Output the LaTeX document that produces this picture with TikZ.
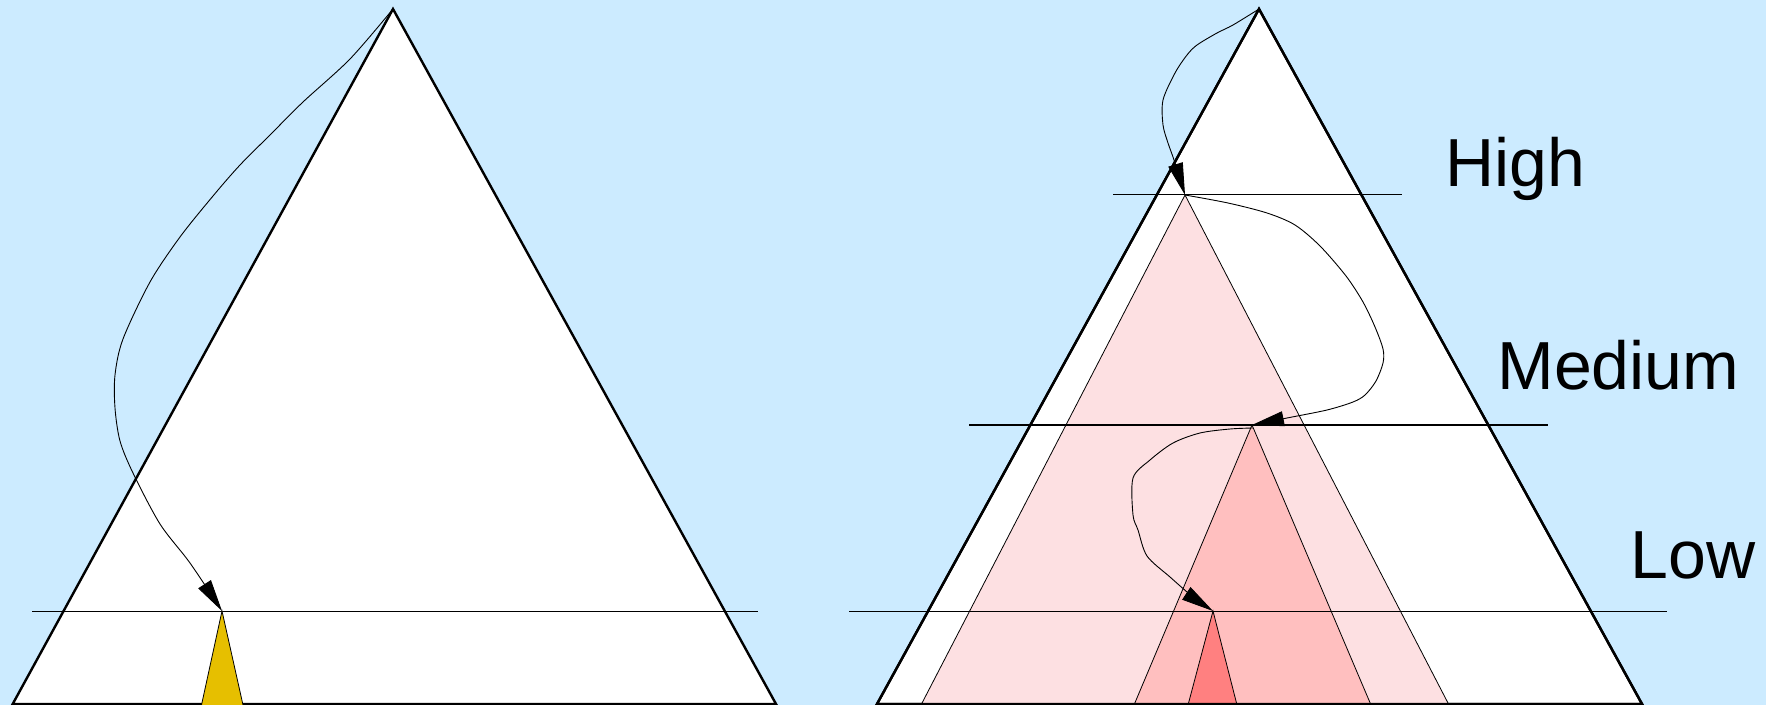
\documentclass[tikz,border=0pt]{standalone}
\usepackage{fontspec}
\usetikzlibrary{arrows.meta}
\newfontfamily\tagfont{Liberation Sans}
\definecolor{sky}{HTML}{CCEBFF}
\definecolor{gold}{HTML}{E6BF00}
\definecolor{pinkA}{HTML}{FDE0E2}
\definecolor{pinkB}{HTML}{FFBFBF}
\definecolor{pinkC}{HTML}{FF8080}
\tikzset{
  pyramid/.style={draw=black,line width=1.2pt,line join=miter,fill=white},
  slice/.style={draw=black,line width=0.4pt},
  level/.style={draw=black,line width=0.5pt},
  flow/.style={draw=black,line width=0.45pt,-{Triangle[length=16pt,width=7.5pt]}},
  tag/.style={font=\tagfont\fontsize{34}{38}\selectfont,anchor=base west,inner sep=0pt}
}
\begin{document}
\begin{tikzpicture}[x=0.5pt,y=-0.5pt]
\fill[sky] (0,0) rectangle (1766,705);
\useasboundingbox (0,0) rectangle (1766,705);
% left pyramid
\coordinate (ltop) at (393,9); \coordinate (lpick) at (222,611);
\draw[pyramid] (12.7,704) -- (ltop) -- (776,704) -- cycle;
\draw[level] (32,611) -- (758,611);
\fill[gold] (lpick) -- (201.5,705) -- (243,705) -- cycle;
\draw[slice] (201.5,705) -- (lpick) -- (243,705);
\draw[flow] plot[smooth,tension=0.5] coordinates {(ltop) (350,59) (303,102) (270,135) (240,165) (213,196) (180,237) (150,282)
  (123,339) (115,375) (115,408) (120,441) (133,473) (160,524) (190,563) (lpick)};
% right pyramid
\coordinate (rtop) at (1259,9); \coordinate (high) at (1185,195);
\coordinate (medium) at (1252,425); \coordinate (low) at (1213,611);
\draw[pyramid] (877,704) -- (rtop) -- (1642,704) -- cycle;
\fill[pinkA] (high) -- (921,705) -- (1449,705) -- cycle;
\draw[slice] (921,705) -- (high) -- (1449,705);
\fill[pinkB] (medium) -- (1134,705) -- (1371,705) -- cycle;
\draw[slice] (1134,705) -- (medium) -- (1371,705);
\fill[pinkC] (low) -- (1188,705) -- (1237,705) -- cycle;
\draw[slice] (1188,705) -- (low) -- (1237,705);
\draw[pyramid,fill=none] (877,704) -- (rtop) -- (1642,704) -- cycle;
\draw[level] (1113,195) -- (1402,195);
\draw[level] (969,425) -- (1548,425);
\draw[level] (849,611) -- (1667,611);
\draw[flow] plot[smooth,tension=0.5] coordinates {(rtop) (1233,25) (1217,33) (1197,45) (1187,55) (1175,73) (1163,100)
  (1163,125) (1168,143) (1174,160) (high)};
\draw[flow] plot[smooth,tension=0.5] coordinates {(high) (1228,203) (1267,213) (1295,225) (1320,246) (1346,276) (1363,302)
  (1375,327) (1383,349) (1383,363) (1376,381) (1365,395) (1353,402) (1327,410) (1287,418) (medium)};
\draw[flow] plot[smooth,tension=0.5] coordinates {(1253,428) (1230,429) (1200,433) (1173,443) (1150,460) (1133,478)
  (1133,515) (1138,530) (1147,556) (1170,577) (1193,597) (low)};
\node[tag] (hightag) at (1445,187) {High};
\node[tag] (mediumtag) at (1497,390) {Medium};
\node[tag] (lowtag) at (1630,578) {Low};
\end{tikzpicture}
\end{document}
